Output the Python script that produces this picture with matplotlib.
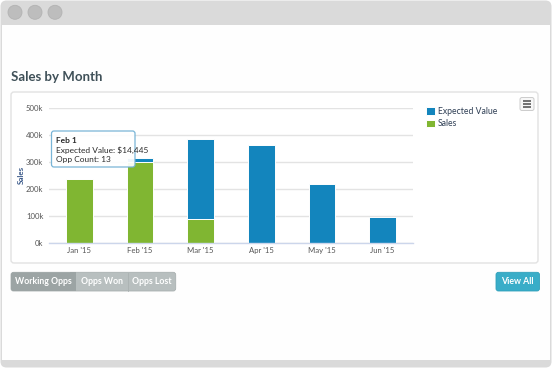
import matplotlib
matplotlib.use("Agg")
from matplotlib import pyplot as plt
from matplotlib.patches import Rectangle, FancyBboxPatch, Circle

# ================================================================
# DATA
# ================================================================
MONTHS = ["Jan '15", "Feb '15", "Mar '15", "Apr '15", "May '15", "Jun '15"]
SALES = [237000, 300000, 88000, 0, 0, 0]
EXPECTED = [0, 14445, 297000, 365000, 218000, 97000]
Y_TICKS = [0, 100000, 200000, 300000, 400000, 500000]
Y_TICK_LABELS = ["0k", "100k", "200k", "300k", "400k", "500k"]
BUTTONS = ["Working Opps", "Opps Won", "Opps Lost"]
TOOLTIP = ["Feb 1", "Expected Value: $14,445", "Opp Count: 13"]

BLUE = "#1385bd"
GREEN = "#80b632"
W, H = 552, 368

plt.rcParams["font.family"] = ["Lato", "DejaVu Sans"]

fig = plt.figure(figsize=(W / 100, H / 100), dpi=100)


def px_axes(x0, y0, x1, y1, **kw):
    # axes placed by pixel box (top-left origin)
    return fig.add_axes([x0 / W, 1 - y1 / H, (x1 - x0) / W, (y1 - y0) / H], **kw)


# ---------------- background / window chrome ----------------
bg = px_axes(0, 0, W, H, zorder=0)
bg.set_xlim(0, W)
bg.set_ylim(H, 0)
bg.axis("off")

bg.add_patch(FancyBboxPatch((0.5, 0.5), W - 1, H - 1, boxstyle="round,pad=0,rounding_size=6",
                            facecolor="#dadada", edgecolor="none"))
bg.add_patch(Rectangle((2, 25), W - 4, 335, facecolor="#fefefe", edgecolor="none"))
for cx in (15, 35, 55):
    bg.add_patch(Circle((cx, 12.3), 7, facecolor="#bdbdbd", edgecolor="#b3b3b3", lw=0.6))

bg.text(11, 77, "Sales by Month", fontsize=9.5, fontweight="bold", color="#3f5058",
        va="center", ha="left")

# chart panel
bg.add_patch(FancyBboxPatch((11, 92), 527, 171, boxstyle="round,pad=0,rounding_size=3",
                            facecolor="white", edgecolor="#e2e2e2", lw=1))

# menu icon
bg.add_patch(FancyBboxPatch((520, 97.5), 14, 13, boxstyle="round,pad=0,rounding_size=2",
                            facecolor="#f7f7f7", edgecolor="#cccccc", lw=0.7))
for yy in (101, 104, 107):
    bg.plot([523, 531], [yy, yy], color="#666666", lw=1.3, solid_capstyle="butt")

# y label
bg.text(21, 175, "Sales", rotation=90, fontsize=5.8, fontweight="bold", color="#3b5a8a",
        va="center", ha="center")

# buttons
btn_x = [11, 76, 127.7, 175.7]
bg.add_patch(FancyBboxPatch((11, 272.3), 164.7, 18.7, boxstyle="round,pad=0,rounding_size=2.5",
                            facecolor="#b8bfbf", edgecolor="#a9b0b0", lw=0.6))
bg.add_patch(FancyBboxPatch((11, 272.3), 65, 18.7, boxstyle="round,pad=0,rounding_size=2.5",
                            facecolor="#9ca4a4", edgecolor="none"))
bg.add_patch(Rectangle((70, 272.3), 6, 18.7, facecolor="#9ca4a4", edgecolor="none"))
bg.plot([127.7, 127.7], [272.5, 290.8], color="#aab1b1", lw=0.6)
for i, label in enumerate(BUTTONS):
    bg.text((btn_x[i] + btn_x[i + 1]) / 2, 282, label, fontsize=6.3, fontweight="bold",
            color="white", ha="center", va="center")

bg.add_patch(FancyBboxPatch((496, 272.3), 43.5, 18.7, boxstyle="round,pad=0,rounding_size=2.5",
                            facecolor="#39adc8", edgecolor="#2fa0ba", lw=0.6))
bg.text(517.7, 282, "View All", fontsize=6.3, fontweight="bold", color="white",
        ha="center", va="center")

# ---------------- chart ----------------
ax = px_axes(49, 108.3, 413, 243, zorder=1)
ax.set_facecolor("none")
x = list(range(len(MONTHS)))
b_sales = ax.bar(x, SALES, width=0.44, color=GREEN, edgecolor="white", lw=0.7, zorder=3,
                 label="Sales")
b_exp = ax.bar(x, EXPECTED, width=0.44, bottom=SALES, color=BLUE, edgecolor="white", lw=0.7,
               zorder=3, label="Expected Value")
ax.set_xlim(-0.5, len(MONTHS) - 0.5)
ax.set_ylim(0, 500000)
ax.set_yticks(Y_TICKS)
ax.set_yticklabels(Y_TICK_LABELS)
ax.set_xticks(x)
ax.set_xticklabels(MONTHS)
ax.grid(axis="y", color="#e3e3e3", lw=1, zorder=0)
ax.tick_params(axis="both", length=0, labelsize=5.6, labelcolor="#555555")
ax.tick_params(axis="y", pad=4)
ax.tick_params(axis="x", pad=3)
for side in ("top", "right", "left"):
    ax.spines[side].set_visible(False)
ax.spines["bottom"].set_color("#ccd6eb")
ax.spines["bottom"].set_linewidth(1)
ax.spines["bottom"].set_zorder(4)

fig.legend([b_exp, b_sales], ["Expected Value", "Sales"], loc="upper left",
           bbox_to_anchor=(426 / W, 1 - 107 / H), frameon=False, fontsize=6.2,
           handlelength=1.0, handleheight=1.0, handletextpad=0.4, labelspacing=0.4,
           labelcolor="#2f3f55", borderaxespad=0, borderpad=0)

# ---------------- tooltip overlay ----------------
ov = px_axes(0, 0, W, H, zorder=5)
ov.set_xlim(0, W)
ov.set_ylim(H, 0)
ov.axis("off")
ov.add_patch(FancyBboxPatch((51.5, 131), 83.5, 36, boxstyle="round,pad=0,rounding_size=2.5",
                            facecolor="white", alpha=0.93, edgecolor="#6fb0d4", lw=0.9))
ov.text(56, 140.5, TOOLTIP[0], fontsize=6.0, fontweight="bold", color="#2a2a2a", va="center")
ov.text(56, 150.5, TOOLTIP[1], fontsize=6.0, color="#2a2a2a", va="center")
ov.text(56, 159.8, TOOLTIP[2], fontsize=6.0, color="#2a2a2a", va="center")

fig.savefig("out.png", dpi=100)
